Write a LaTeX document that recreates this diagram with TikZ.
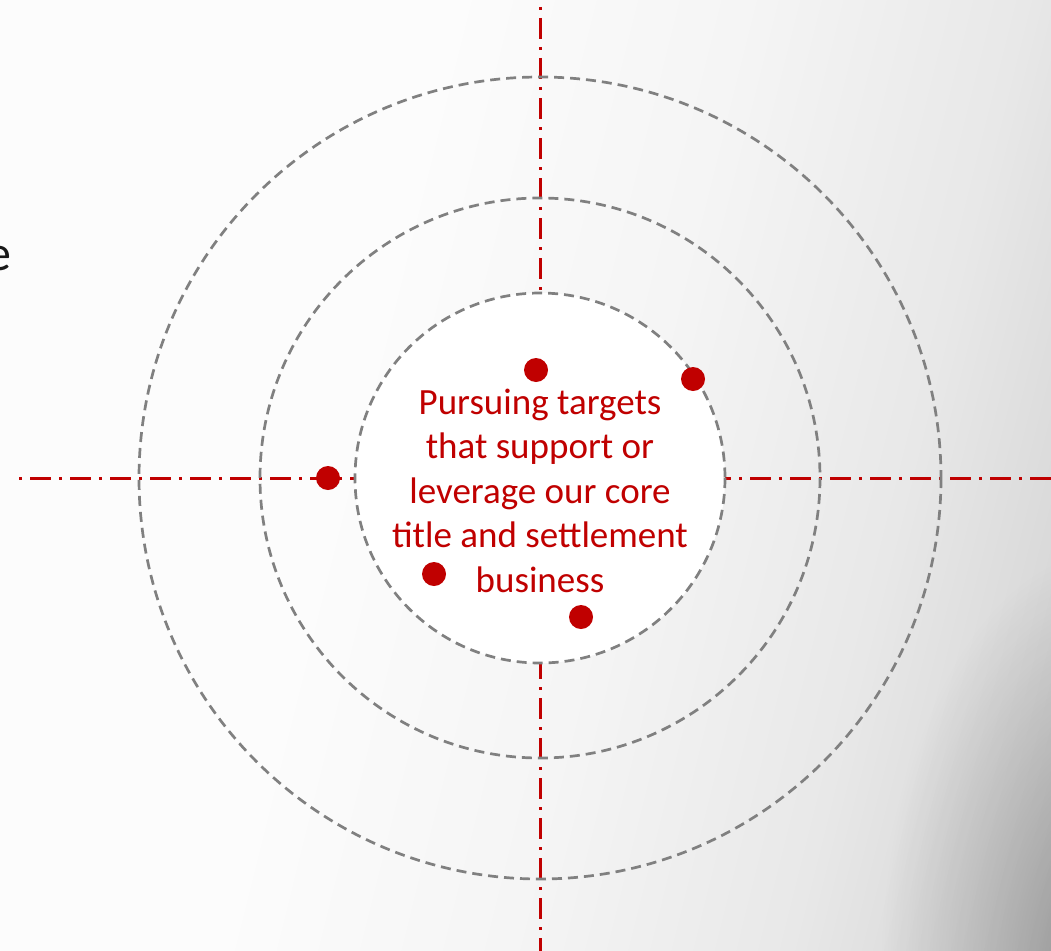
\documentclass[tikz,border=0pt]{standalone}
\usepackage{fontspec}
\setmainfont{Carlito}
\usetikzlibrary{fadings}
\tikzfading[name=cornerfade, inner color=transparent!0, outer color=transparent!100]
\definecolor{tred}{RGB}{192,0,0}
\definecolor{ringgray}{RGB}{128,128,128}
\pgfdeclarehorizontalshading{bgshade}{100bp}{color(0bp)=(black!1); color(40bp)=(black!1); color(55bp)=(black!4); color(68bp)=(black!9); color(80bp)=(black!18); color(90bp)=(black!28); color(100bp)=(black!45)}
\begin{document}
\begin{tikzpicture}[x=1pt,y=-1pt,
  ring/.style={draw=ringgray, line width=2.7pt, dash pattern=on 10pt off 6pt},
  axisline/.style={draw=tred, line width=3pt, dash pattern=on 3pt off 8pt on 21pt off 8pt},
  target/.style={circle, fill=tred, minimum size=24pt, inner sep=0pt},
  centertext/.style={text=tred, font=\fontsize{37}{44.5}\selectfont, align=center, inner sep=0pt},
  sidetext/.style={text=black!90, font=\fontsize{50}{60}\selectfont, inner sep=0pt}]
\useasboundingbox (0,0) rectangle (1051,950);
\begin{scope}
\clip (0,0) rectangle (1051,950);
\shade[shading=bgshade, shading angle=-14] (0,0) rectangle (1051,950);
\fill[black, opacity=0.3, path fading=cornerfade] (1110,980) ellipse[x radius=230, y radius=430];
\end{scope}
\coordinate (c) at (540,478);
\coordinate (hl) at (19,478);
\coordinate (hr) at (1055,478);
\coordinate (vt) at (540,-33);
\coordinate (vb) at (540,955);
\draw[axisline] (hl) -- (hr);
\draw[axisline] (vt) -- (vb);
\draw[ring] (c) circle[radius=401];
\draw[ring] (c) circle[radius=280];
\draw[ring, fill=white] (c) circle[radius=185];
\node[target] (d1) at (536,370) {};
\node[target] (d2) at (693,379) {};
\node[target] (d3) at (328,478) {};
\node[target] (d4) at (434,574) {};
\node[target] (d5) at (581,617) {};
\node[centertext, anchor=base] (txt) at (540,592) {Pursuing targets\\that support or\\leverage our core\\title and settlement\\business};
\node[sidetext, anchor=base east] (e) at (12,270) {e};
\end{tikzpicture}
\end{document}
